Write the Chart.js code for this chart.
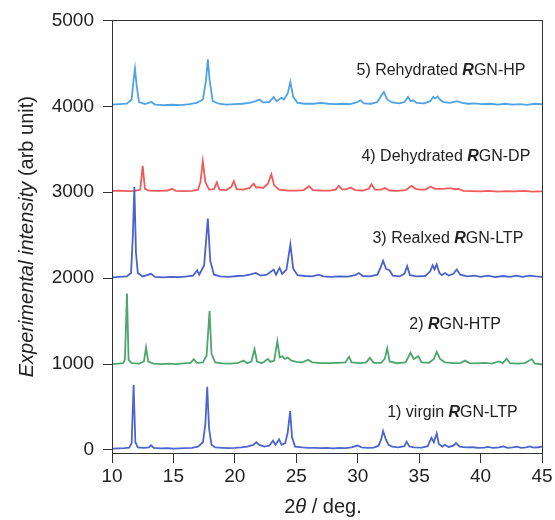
<!DOCTYPE html>
<html>
<head>
<meta charset="utf-8">
<script src="https://cdn.jsdelivr.net/npm/chart.js@4/dist/chart.umd.min.js"></script>
<style>
  html, body { margin: 0; padding: 0; background: #ffffff; }
  #wrap { width: 555px; height: 520px; }
</style>
</head>
<body>
<div id="wrap"><canvas id="xrd" width="555" height="520"></canvas></div>
<script>
// Powder XRD patterns, each stacked on its own 1000-unit offset: [2theta, intensity]
const virginLTP = [[10,15],[10.5,20],[11,22],[11.4,28],[11.6,80],[11.76,756],[11.9,90],[12.1,30],[12.6,25],[13.0,30],[13.18,55],[13.4,25],[14,18],[14.5,20],[15,15],[15.5,18],[16,22],[16.5,25],[17.0,40],[17.4,90],[17.6,300],[17.75,736],[17.9,250],[18.1,60],[18.4,30],[19,25],[19.5,22],[20,25],[20.5,30],[21,40],[21.5,60],[21.74,90],[22,60],[22.4,40],[22.8,50],[23.1,108],[23.3,60],[23.6,125],[23.8,60],[24.1,80],[24.3,200],[24.5,453],[24.65,150],[24.9,40],[25.5,30],[26,25],[26.5,25],[27,22],[27.5,25],[28,20],[28.5,25],[29,22],[29.5,30],[30.0,52],[30.3,30],[30.8,25],[31.3,28],[31.7,50],[31.9,120],[32.07,220],[32.3,120],[32.5,60],[32.8,40],[33.3,30],[33.8,45],[33.98,97],[34.2,40],[34.6,30],[35.2,28],[35.7,45],[36.0,143],[36.2,90],[36.43,193],[36.6,70],[36.9,40],[37.1,60],[37.4,35],[37.8,50],[38.0,80],[38.3,40],[38.8,30],[39.4,32],[39.8,25],[40.3,28],[40.6,35],[41.0,25],[41.5,30],[41.86,42],[42.2,25],[42.6,30],[42.95,40],[43.3,25],[43.7,30],[44.0,42],[44.3,28],[44.7,32],[45,40]];

const htp = [[10,1000],[10.5,1005],[10.9,1010],[11.05,1050],[11.22,1822],[11.35,1050],[11.6,1010],[12.2,1005],[12.6,1030],[12.77,1194],[12.95,1030],[13.4,1005],[14,1000],[14.6,1005],[15.2,1000],[15.8,1008],[16.4,1015],[16.66,1058],[16.9,1015],[17.4,1020],[17.7,1100],[17.94,1616],[18.1,1120],[18.4,1020],[19,1008],[19.6,1005],[20.2,1010],[20.71,1040],[21.0,1010],[21.35,1030],[21.6,1174],[21.8,1030],[22.2,1010],[22.69,1060],[22.9,1025],[23.2,1040],[23.46,1267],[23.65,1080],[23.87,1090],[24.05,1060],[24.3,1075],[24.6,1040],[25.0,1025],[25.5,1020],[25.96,1050],[26.3,1020],[27,1012],[27.7,1010],[28.4,1015],[29.0,1020],[29.3,1085],[29.5,1020],[30.2,1012],[30.7,1020],[30.99,1075],[31.3,1015],[31.9,1015],[32.2,1060],[32.4,1182],[32.6,1030],[33.2,1010],[33.9,1020],[34.3,1132],[34.55,1060],[34.93,1090],[35.2,1020],[35.8,1015],[36.2,1060],[36.43,1143],[36.7,1060],[37.1,1020],[37.8,1010],[38.4,1015],[38.73,1040],[39.1,1012],[39.7,1008],[40.3,1015],[40.9,1005],[41.5,1030],[41.8,1010],[42.13,1063],[42.4,1010],[43,1005],[43.6,1012],[44.17,1058],[44.4,1008],[45,995]];

const relaxedLTP = [[10,2010],[10.6,2015],[11.2,2020],[11.55,2060],[11.7,2500],[11.82,3060],[11.95,2300],[12.1,2060],[12.5,2020],[13.18,2050],[13.5,2015],[14.2,2010],[14.8,2015],[15.5,2012],[16.1,2020],[16.6,2030],[16.93,2090],[17.1,2040],[17.5,2150],[17.8,2694],[18.0,2200],[18.3,2040],[18.8,2020],[19.5,2015],[20.2,2025],[20.8,2030],[21.3,2045],[21.7,2060],[22.1,2030],[22.6,2040],[23.16,2100],[23.35,2040],[23.64,2120],[23.85,2050],[24.2,2100],[24.52,2392],[24.75,2110],[25.1,2035],[25.7,2025],[26.3,2020],[26.8,2040],[27.2,2020],[27.8,2015],[28.5,2020],[29.2,2018],[29.8,2035],[30.1,2060],[30.4,2025],[31.0,2020],[31.6,2040],[31.85,2120],[32.07,2201],[32.3,2110],[32.6,2090],[32.85,2030],[33.4,2020],[33.8,2050],[34.03,2140],[34.25,2035],[34.8,2020],[35.5,2025],[35.9,2080],[36.1,2150],[36.25,2100],[36.43,2160],[36.65,2060],[36.85,2035],[37.1,2060],[37.4,2030],[37.8,2050],[38.06,2100],[38.35,2040],[38.9,2020],[39.5,2030],[40,2015],[40.6,2030],[41.2,2012],[41.8,2025],[42.4,2015],[42.9,2030],[43.4,2015],[44,2030],[44.5,2020],[45,2015]];

const dehydratedDP = [[10,3015],[10.6,3018],[11.3,3012],[11.9,3015],[12.3,3030],[12.5,3306],[12.68,3040],[13.0,3018],[13.8,3015],[14.5,3020],[14.9,3040],[15.2,3015],[15.9,3012],[16.5,3015],[17.0,3030],[17.2,3120],[17.39,3360],[17.6,3120],[17.9,3030],[18.3,3035],[18.53,3113],[18.75,3030],[19.3,3025],[19.7,3060],[19.92,3128],[20.15,3035],[20.7,3030],[21.2,3050],[21.53,3100],[21.75,3055],[21.97,3060],[22.3,3050],[22.7,3100],[22.97,3209],[23.2,3080],[23.6,3030],[24.3,3020],[25.0,3018],[25.6,3025],[26.04,3070],[26.35,3025],[27.0,3020],[27.7,3018],[28.2,3030],[28.46,3075],[28.75,3030],[29.1,3035],[29.41,3055],[29.8,3025],[30.4,3020],[30.9,3040],[31.12,3093],[31.4,3030],[31.9,3030],[32.2,3050],[32.6,3020],[33.2,3015],[33.9,3025],[34.4,3075],[34.7,3040],[35.1,3030],[35.5,3030],[35.94,3065],[36.3,3040],[36.9,3040],[37.3,3045],[37.6,3045],[37.9,3035],[38.2,3040],[38.6,3015],[39.3,3012],[40,3010],[40.7,3015],[41.4,3008],[42.1,3012],[42.8,3010],[43.5,3015],[44.2,3008],[45,3010]];

const rehydratedHP = [[10,4020],[10.6,4025],[11.2,4030],[11.6,4080],[11.75,4300],[11.87,4438],[12.0,4250],[12.2,4050],[12.7,4025],[13.2,4050],[13.5,4020],[14.2,4015],[14.9,4018],[15.6,4015],[16.3,4025],[16.9,4040],[17.4,4080],[17.65,4300],[17.8,4547],[17.95,4300],[18.2,4060],[18.7,4030],[19.3,4020],[20.0,4025],[20.6,4030],[21.2,4040],[21.7,4060],[22.0,4080],[22.3,4045],[22.8,4050],[23.16,4110],[23.4,4060],[23.78,4100],[24.0,4080],[24.3,4150],[24.52,4283],[24.75,4110],[25.1,4040],[25.7,4030],[26.4,4030],[27.0,4040],[27.6,4030],[28.2,4025],[28.8,4030],[29.4,4025],[29.9,4045],[30.23,4070],[30.5,4035],[31.1,4030],[31.6,4050],[31.9,4120],[32.13,4166],[32.4,4080],[32.8,4045],[33.4,4035],[33.8,4050],[34.1,4110],[34.3,4060],[34.5,4070],[34.8,4040],[35.4,4035],[35.9,4060],[36.15,4110],[36.3,4090],[36.5,4115],[36.75,4070],[37.0,4050],[37.5,4040],[38.1,4060],[38.5,4040],[39.0,4030],[39.5,4035],[40.1,4025],[40.8,4030],[41.4,4020],[42.0,4030],[42.6,4020],[43.2,4025],[43.8,4018],[44.4,4030],[45,4025]];

const xTicks = [10, 15, 20, 25, 30, 35, 40, 45];
const yTicks = [0, 1000, 2000, 3000, 4000, 5000];

// Series captions: [prefix, italic letter, suffix, 2theta at left edge, intensity at text middle]
const captions = [
  ['5) Rehydrated ', 'R', 'GN-HP', 29.9, 4420],
  ['4) Dehydrated ', 'R', 'GN-DP', 30.3, 3420],
  ['3) Realxed ', 'R', 'GN-LTP', 31.2, 2460],
  ['2) ', 'R', 'GN-HTP', 34.2, 1460],
  ['1) virgin ', 'R', 'GN-LTP', 32.4, 440]
];

const FONT = '"Liberation Sans", Arial, sans-serif';
const INK = '#222222';

const toXY = arr => arr.map(p => ({ x: p[0], y: p[1] }));

const series = [
  { label: '1) virgin RGN-LTP', data: virginLTP, color: '#4b66cc' },
  { label: '2) RGN-HTP', data: htp, color: '#4da66c' },
  { label: '3) Realxed RGN-LTP', data: relaxedLTP, color: '#4b62cc' },
  { label: '4) Dehydrated RGN-DP', data: dehydratedDP, color: '#ef5a5a' },
  { label: '5) Rehydrated RGN-HP', data: rehydratedHP, color: '#4ea3e6' }
];

// draws a run of differently styled text pieces starting at x
function drawRun(ctx, parts, x, y) {
  parts.forEach(([t, f]) => {
    ctx.font = f + FONT;
    ctx.fillText(t, x, y);
    x += ctx.measureText(t).width;
  });
}
function runWidth(ctx, parts) {
  let w = 0;
  parts.forEach(([t, f]) => { ctx.font = f + FONT; w += ctx.measureText(t).width; });
  return w;
}

const decorations = {
  id: 'decorations',
  afterDraw(chart) {
    const { ctx, chartArea: a, scales } = chart;
    ctx.save();
    // closed frame around the plot
    ctx.strokeStyle = '#333333';
    ctx.lineWidth = 1;
    ctx.strokeRect(Math.round(a.left) + 0.5, Math.round(a.top) + 0.5,
                   Math.round(a.right - a.left), Math.round(a.bottom - a.top));

    // captions with the bold-italic R
    ctx.fillStyle = INK;
    ctx.textBaseline = 'middle';
    ctx.textAlign = 'left';
    captions.forEach(([pre, r, post, cx, cy]) => {
      const x = scales.x.getPixelForValue(cx);
      const y = scales.y.getPixelForValue(cy);
      drawRun(ctx, [[pre, '16px '], [r, 'italic bold 16px '], [post, '16px ']], x, y);
    });

    // x-axis title: 2θ / deg.
    const xParts = [['2', '20px '], ['\u03b8', 'italic 20px '], [' / deg.', '20px ']];
    const xw = runWidth(ctx, xParts);
    drawRun(ctx, xParts, (a.left + a.right) / 2 - xw / 2 - 4, 507);

    // y-axis title, rotated
    const yParts = [['Experimental intensity', 'italic 20px '], [' (arb unit)', '20px ']];
    const yw = runWidth(ctx, yParts);
    ctx.translate(27, (a.top + a.bottom) / 2);
    ctx.rotate(-Math.PI / 2);
    drawRun(ctx, yParts, -yw / 2, 0);
    ctx.restore();
  }
};

new Chart(document.getElementById('xrd'), {
  type: 'line',
  data: {
    datasets: series.map(s => ({
      label: s.label,
      data: toXY(s.data),
      borderColor: s.color,
      borderWidth: 1.8,
      pointRadius: 0,
      tension: 0,
      fill: false
    }))
  },
  options: {
    responsive: false,
    animation: false,
    devicePixelRatio: 1,
    layout: { padding: { top: 20, right: 13, left: 0, bottom: 0 } },
    plugins: { legend: { display: false }, tooltip: { enabled: false } },
    scales: {
      x: {
        type: 'linear',
        min: 10,
        max: 45,
        afterBuildTicks: s => { s.ticks = xTicks.map(v => ({ value: v })); },
        afterFit: s => { s.height = 67; },
        ticks: { color: INK, font: { family: FONT, size: 19 }, padding: 2, maxRotation: 0, autoSkip: false,
                 callback: v => String(v) },
        grid: { drawOnChartArea: false, drawTicks: true, tickLength: 10, tickColor: '#333333' },
        border: { color: '#333333', width: 1 }
      },
      y: {
        type: 'linear',
        min: -35,
        max: 5000,
        afterBuildTicks: s => { s.ticks = yTicks.map(v => ({ value: v })); },
        afterFit: s => { s.width = 112; },
        ticks: { color: INK, font: { family: FONT, size: 19 }, padding: 9, autoSkip: false,
                 callback: v => String(v) },
        grid: { drawOnChartArea: false, drawTicks: true, tickLength: 9, tickColor: '#333333' },
        border: { color: '#333333', width: 1 }
      }
    }
  },
  plugins: [decorations]
});
</script>
</body>
</html>
